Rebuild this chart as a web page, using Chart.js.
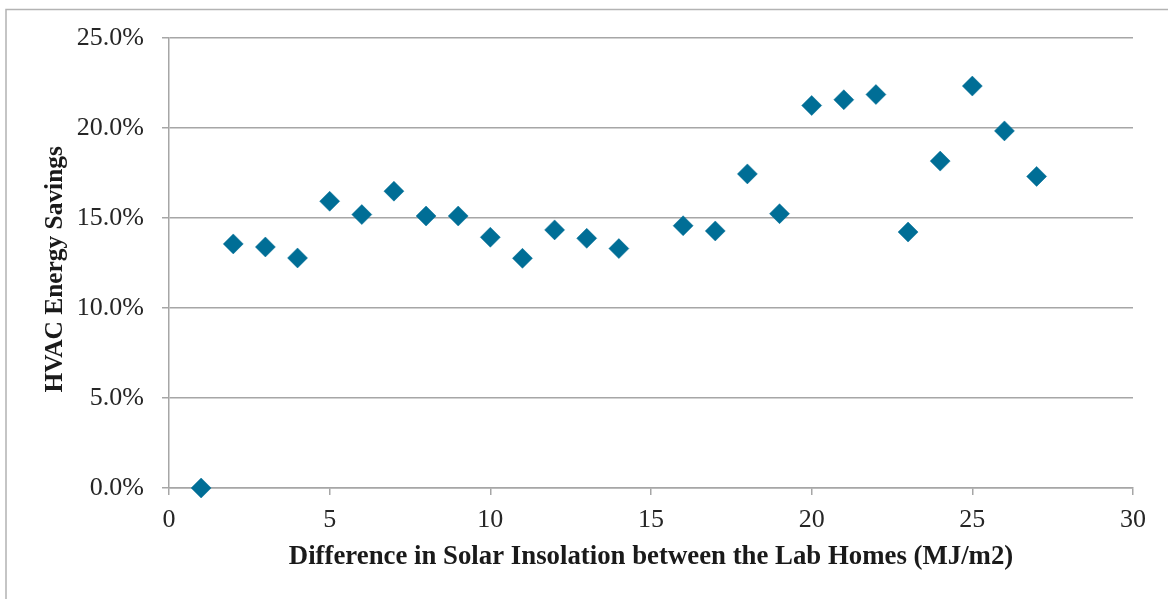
<!DOCTYPE html>
<html>
<head>
<meta charset="utf-8">
<script src="https://cdn.jsdelivr.net/npm/chart.js@4/dist/chart.umd.min.js"></script>
<style>
  html, body { margin: 0; padding: 0; background: #fff; }
  #wrap { position: relative; width: 1168px; height: 599px; }
</style>
</head>
<body>
<div id="wrap"><canvas id="mainChart"></canvas></div>
<script>
// Solar insolation difference (MJ/m2) vs HVAC savings (fraction)
const insolation = [1, 2, 3, 4, 5, 6, 7, 8, 9, 10, 11, 12, 13, 14, 16, 17, 18, 19, 20, 21, 22, 23, 24, 25, 26, 27];
const savings = [0.000, 0.1356, 0.1339, 0.1278, 0.1593, 0.1519, 0.1649, 0.1511, 0.1511, 0.1393, 0.1276, 0.1434, 0.1387, 0.1330,
                 0.1457, 0.1428, 0.1745, 0.1524, 0.2125, 0.2157, 0.2186, 0.1422, 0.1816, 0.2233, 0.1984, 0.1731];

const xTitle = 'Difference in Solar Insolation between the Lab Homes (MJ/m2)';
const yTitle = 'HVAC Energy Savings\u00a0\u00a0';

const serif = "'Liberation Serif', 'Times New Roman', serif";
const gridGray = '#a6a6a6';

// Thin frame around the chart (left and top edges are visible in the source)
const framePlugin = {
  id: 'frame',
  beforeDraw(chart) {
    const ctx = chart.ctx;
    ctx.save();
    ctx.strokeStyle = '#b3b3b3';
    ctx.lineWidth = 1.5;
    ctx.beginPath();
    ctx.moveTo(6, 599);
    ctx.lineTo(6, 9.5);
    ctx.lineTo(1168, 9.5);
    ctx.stroke();
    ctx.restore();
  }
};

const points = insolation.map((x, i) => ({ x: x, y: savings[i] }));

new Chart(document.getElementById('mainChart'), {
  type: 'scatter',
  data: {
    datasets: [{
      data: points,
      clip: false,
      pointStyle: 'rectRot',
      pointRadius: 10,
      pointHoverRadius: 10,
      backgroundColor: '#006E96',
      borderColor: '#006E96',
      borderWidth: 0.5
    }]
  },
  options: {
    responsive: true,
    maintainAspectRatio: false,
    animation: false,
    layout: { padding: { top: 38, right: 35, left: 0, bottom: 0 } },
    plugins: {
      legend: { display: false },
      tooltip: { enabled: false }
    },
    scales: {
      x: {
        type: 'linear',
        min: 0, max: 30,
        afterFit: s => { s.height = 111; },
        grid: { drawOnChartArea: false, drawTicks: true, tickLength: 7, color: gridGray, lineWidth: 1.5 },
        border: { display: true, color: gridGray, width: 1.5 },
        ticks: { stepSize: 5, padding: 10, color: '#262626', font: { family: serif, size: 26 } },
        title: {
          display: true, text: xTitle, color: '#1a1a1a',
          font: { family: serif, size: 26.8, weight: 'bold' },
          padding: { top: 0, bottom: 26 }
        }
      },
      y: {
        min: 0, max: 0.25,
        afterFit: s => { s.width = 169; },
        grid: { color: gridGray, lineWidth: 1.5, tickLength: 7 },
        border: { display: true, color: gridGray, width: 1.5 },
        ticks: {
          stepSize: 0.05, padding: 18, color: '#262626',
          font: { family: serif, size: 26 },
          callback: v => (v * 100).toFixed(1) + '%'
        },
        title: {
          display: true, text: yTitle, color: '#1a1a1a',
          font: { family: serif, size: 25.4, weight: 'bold' },
          padding: { top: 40, bottom: 0 }
        }
      }
    }
  },
  plugins: [framePlugin]
});
</script>
</body>
</html>
